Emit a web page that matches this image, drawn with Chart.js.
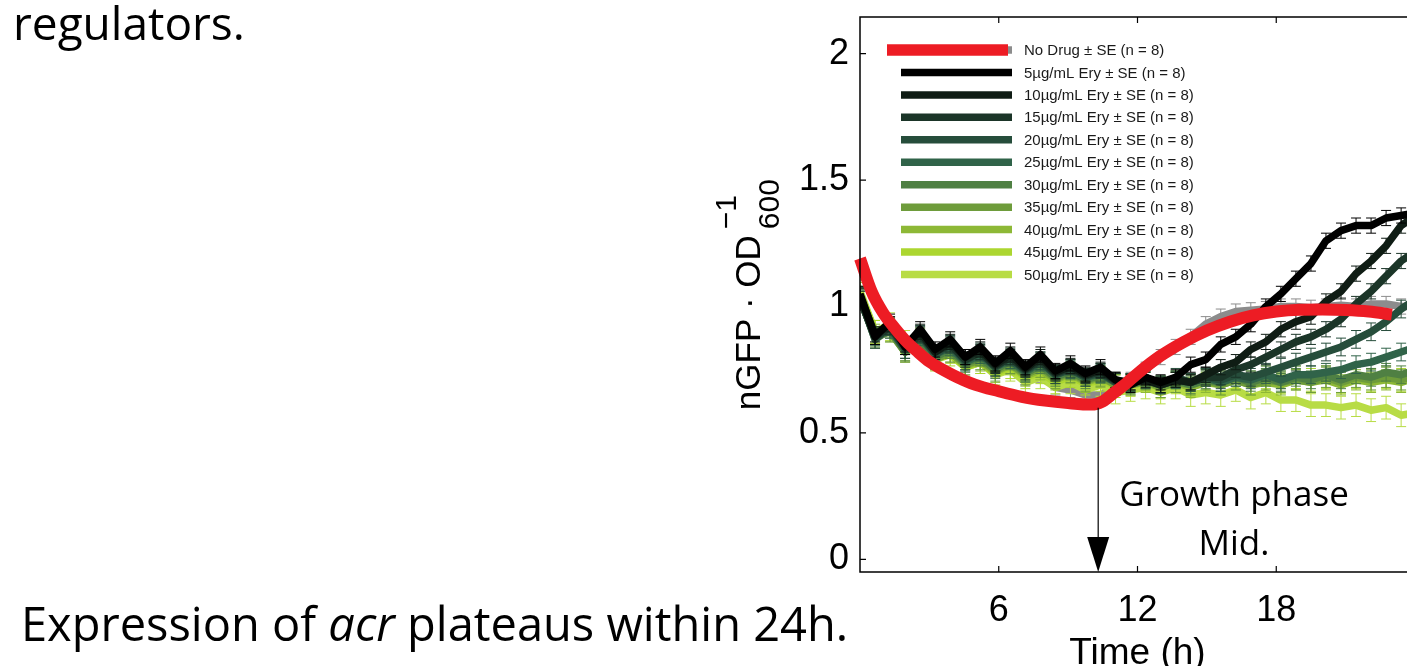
<!DOCTYPE html>
<html>
<head>
<meta charset="utf-8">
<script src="https://cdn.jsdelivr.net/npm/chart.js@4.4.1/dist/chart.umd.min.js"></script>
<style>
html,body{margin:0;padding:0;width:1407px;height:666px;overflow:hidden;background:#fff;}
#c{position:absolute;left:0;top:0;}
.slide{position:absolute;font-family:'Open Sans',sans-serif;color:#000;white-space:nowrap;z-index:2;}
</style>
</head>
<body>
<canvas id="c" width="1500" height="666"></canvas>
<div class="slide" style="left:13px;top:-1px;font-size:46px;line-height:46px;">regulators.</div>
<div class="slide" style="left:21px;top:600px;font-size:47px;line-height:47px;">Expression of <i>acr</i> plateaus within 24h.</div>
<div class="slide" style="left:1034px;top:475px;width:400px;text-align:center;font-size:35px;line-height:35px;">Growth phase</div>
<div class="slide" style="left:1034px;top:524px;width:400px;text-align:center;font-size:35px;line-height:35px;">Mid.</div>
<script>
// ---------------- data ----------------
const times = [0,0.65,1.3,1.95,2.6,3.25,3.9,4.55,5.2,5.85,6.5,7.15,7.8,8.45,9.1,9.75,10.4,11.05,11.7,12.35,13,13.65,14.3,14.95,15.6,16.25,16.9,17.55,18.2,18.85,19.5,20.15,20.8,21.45,22.1,22.75,23.4,24.05];

const noDrug = [1.05,0.89,0.93,0.85,0.88,0.81,0.84,0.78,0.80,0.75,0.77,0.72,0.73,0.68,0.67,0.65,0.65,0.68,0.71,0.75,0.80,0.84,0.88,0.93,0.96,0.98,0.985,0.99,1.00,1.00,0.995,1.00,1.005,1.00,1.01,1.01,1.00,1.00];
const ery5  = [1.05,0.88,0.94,0.84,0.91,0.83,0.87,0.80,0.84,0.775,0.825,0.76,0.81,0.745,0.775,0.735,0.76,0.71,0.69,0.72,0.70,0.72,0.77,0.79,0.85,0.88,0.93,1.00,1.05,1.11,1.17,1.26,1.30,1.32,1.32,1.35,1.36,1.37];
const ery10 = [1.04,0.89,0.93,0.85,0.90,0.82,0.86,0.80,0.83,0.77,0.81,0.755,0.80,0.74,0.765,0.73,0.75,0.71,0.70,0.71,0.69,0.71,0.70,0.73,0.76,0.78,0.83,0.86,0.91,0.94,0.96,1.02,1.06,1.13,1.18,1.24,1.32,1.36];
const ery15 = [1.03,0.88,0.92,0.84,0.89,0.82,0.85,0.79,0.82,0.765,0.80,0.75,0.79,0.735,0.76,0.725,0.745,0.705,0.70,0.72,0.69,0.71,0.70,0.72,0.72,0.75,0.77,0.80,0.83,0.86,0.88,0.91,0.95,1.01,1.06,1.12,1.18,1.22];
const ery20 = [1.04,0.87,0.92,0.83,0.89,0.81,0.85,0.785,0.82,0.76,0.80,0.745,0.785,0.73,0.755,0.72,0.74,0.70,0.70,0.71,0.69,0.72,0.70,0.72,0.71,0.73,0.72,0.74,0.76,0.78,0.80,0.82,0.84,0.87,0.90,0.94,0.99,1.03];
const ery25 = [1.03,0.88,0.91,0.83,0.88,0.81,0.84,0.78,0.81,0.76,0.79,0.74,0.78,0.73,0.75,0.72,0.735,0.70,0.70,0.72,0.69,0.71,0.70,0.72,0.70,0.72,0.71,0.73,0.71,0.73,0.73,0.74,0.75,0.77,0.78,0.80,0.82,0.84];
const ery30 = [1.04,0.87,0.91,0.82,0.87,0.80,0.83,0.775,0.80,0.75,0.785,0.735,0.77,0.72,0.745,0.71,0.73,0.70,0.69,0.71,0.69,0.71,0.69,0.71,0.70,0.72,0.70,0.72,0.70,0.72,0.71,0.73,0.71,0.73,0.72,0.74,0.73,0.75];
const ery35 = [1.03,0.88,0.90,0.82,0.86,0.79,0.82,0.77,0.79,0.745,0.775,0.73,0.76,0.715,0.74,0.705,0.725,0.69,0.69,0.71,0.68,0.70,0.69,0.71,0.69,0.71,0.69,0.71,0.70,0.71,0.70,0.72,0.70,0.72,0.71,0.72,0.71,0.73];
const ery40 = [1.04,0.89,0.90,0.82,0.86,0.79,0.82,0.765,0.785,0.74,0.77,0.725,0.75,0.71,0.735,0.70,0.72,0.69,0.69,0.70,0.68,0.70,0.68,0.70,0.69,0.71,0.69,0.70,0.69,0.71,0.70,0.71,0.69,0.71,0.70,0.71,0.70,0.72];
const ery45 = [1.05,0.90,0.91,0.83,0.85,0.79,0.81,0.76,0.78,0.735,0.76,0.72,0.74,0.70,0.725,0.695,0.71,0.685,0.69,0.71,0.68,0.70,0.69,0.71,0.70,0.72,0.70,0.72,0.70,0.72,0.71,0.72,0.70,0.72,0.71,0.72,0.71,0.73];
const ery50 = [1.06,0.90,0.93,0.86,0.87,0.80,0.82,0.76,0.78,0.73,0.75,0.70,0.72,0.68,0.70,0.67,0.69,0.66,0.67,0.68,0.66,0.68,0.65,0.66,0.65,0.67,0.64,0.66,0.63,0.63,0.61,0.61,0.60,0.61,0.59,0.60,0.57,0.58];

// standard error per series (No Drug, 5 ... 50)
const seriesSE = [0.03,0.03,0.03,0.03,0.035,0.035,0.035,0.04,0.04,0.045,0.045];

// fitted No Drug curve (red)
const fitTimes  = [0,0.5,1,1.5,2,2.5,3,4,5,6,7,8,9,10,10.5,11,11.5,12,13,14,15,16,17,18,19,20,21,22,23];
const fitValues = [1.19,1.06,0.975,0.915,0.862,0.82,0.782,0.73,0.69,0.665,0.643,0.628,0.618,0.612,0.625,0.66,0.695,0.735,0.805,0.86,0.905,0.94,0.965,0.98,0.987,0.988,0.986,0.98,0.968];

const seriesLabels = ['No Drug \u00b1 SE (n = 8)','5\u00b5g/mL Ery \u00b1 SE (n = 8)','10\u00b5g/mL Ery \u00b1 SE (n = 8)','15\u00b5g/mL Ery \u00b1 SE (n = 8)','20\u00b5g/mL Ery \u00b1 SE (n = 8)','25\u00b5g/mL Ery \u00b1 SE (n = 8)','30\u00b5g/mL Ery \u00b1 SE (n = 8)','35\u00b5g/mL Ery \u00b1 SE (n = 8)','40\u00b5g/mL Ery \u00b1 SE (n = 8)','45\u00b5g/mL Ery \u00b1 SE (n = 8)','50\u00b5g/mL Ery \u00b1 SE (n = 8)'];
const xTicks = [6,12,18];
const yTicks = [0,0.5,1,1.5,2];
const arrowTime = 10.3;
const arrowFrom = 0.6;

// ---------------- styles ----------------
const seriesColors = ['#8c8c8c','#000000','#0f1c14','#1b3528','#264d3b','#306349','#4f8043','#6e9c3b','#8db836','#acd630','#b8dc45'];
const fitColor = '#ed1c24';
const AXF = "'Liberation Sans', Arial, Helvetica, sans-serif";

const eryValues = [ery5,ery10,ery15,ery20,ery25,ery30,ery35,ery40,ery45,ery50];
const toXY = (ts, vs) => ts.map((t,i)=>({x:t,y:vs[i]}));

const datasets = [];
datasets.push({label:'fit', data: toXY(fitTimes, fitValues), borderColor: fitColor, borderWidth: 12,
  cubicInterpolationMode:'monotone', pointRadius:0, borderCapStyle:'butt', clip: 10});
eryValues.forEach((vals,k)=>{
  datasets.push({label: seriesLabels[k+1], data: toXY(times, vals), borderColor: seriesColors[k+1],
    borderWidth: 7.5, pointRadius: 0, tension: 0, borderJoinStyle:'round', se: seriesSE[k+1]});
});
datasets.push({label: seriesLabels[0], data: toXY(times, noDrug), borderColor: seriesColors[0],
  borderWidth: 7.5, pointRadius: 0, tension: 0, borderJoinStyle:'round', se: seriesSE[0]});

const noPad = s => { s.paddingTop = 0; s.paddingBottom = 0; s.paddingLeft = 0; s.paddingRight = 0; };

const decor = {
  id: 'decor',
  beforeDatasetDraw(chart, args) {
    const ds = chart.data.datasets[args.index];
    if (!ds.se) return;
    const {ctx, chartArea: ca, scales:{x, y}} = chart;
    ctx.save();
    ctx.beginPath(); ctx.rect(ca.left, ca.top, ca.right-ca.left, ca.bottom-ca.top); ctx.clip();
    ctx.strokeStyle = ds.borderColor; ctx.lineWidth = 1;
    ctx.beginPath();
    ds.data.forEach(p => {
      const px = x.getPixelForValue(p.x);
      const y1 = y.getPixelForValue(p.y - ds.se), y2 = y.getPixelForValue(p.y + ds.se);
      ctx.moveTo(px, y1); ctx.lineTo(px, y2);
      ctx.moveTo(px-5, y1); ctx.lineTo(px+5, y1);
      ctx.moveTo(px-5, y2); ctx.lineTo(px+5, y2);
    });
    ctx.stroke();
    ctx.restore();
  },
  afterDraw(chart) {
    const {ctx, chartArea: ca, scales:{x, y}} = chart;
    ctx.save();
    // axes box
    ctx.strokeStyle = '#000'; ctx.lineWidth = 1.5;
    ctx.beginPath();
    ctx.moveTo(ca.left, ca.top); ctx.lineTo(ca.left, ca.bottom); ctx.lineTo(ca.right, ca.bottom);
    ctx.lineTo(ca.right, ca.top); ctx.closePath();
    ctx.stroke();
    ctx.lineWidth = 1.2;
    ctx.beginPath();
    yTicks.forEach(v => { const py = y.getPixelForValue(v);
      ctx.moveTo(ca.left, py); ctx.lineTo(ca.left+6, py);
      ctx.moveTo(ca.right, py); ctx.lineTo(ca.right-6, py); });
    xTicks.forEach(v => { const px = x.getPixelForValue(v);
      ctx.moveTo(px, ca.bottom); ctx.lineTo(px, ca.bottom-6);
      ctx.moveTo(px, ca.top); ctx.lineTo(px, ca.top+6); });
    ctx.stroke();

    // arrow
    const ax = x.getPixelForValue(arrowTime);
    const ay = y.getPixelForValue(arrowFrom);
    ctx.lineWidth = 1.2;
    ctx.beginPath(); ctx.moveTo(ax, ay); ctx.lineTo(ax, ca.bottom - 30); ctx.stroke();
    ctx.fillStyle = '#000';
    ctx.beginPath(); ctx.moveTo(ax-11, ca.bottom-35); ctx.lineTo(ax+11, ca.bottom-35); ctx.lineTo(ax, ca.bottom); ctx.closePath(); ctx.fill();

    // x title
    ctx.fillStyle = '#000';
    ctx.font = `37px ${AXF}`;
    ctx.textAlign = 'center'; ctx.textBaseline = 'alphabetic';
    ctx.fillText('Time (h)', (ca.left+ca.right)/2, 664);

    // y title
    ctx.save();
    ctx.translate(ca.left - 100, y.getPixelForValue(0.59));
    ctx.rotate(-Math.PI/2);
    ctx.textAlign = 'left';
    ctx.font = `35px ${AXF}`;
    ctx.fillText('nGFP \u00b7 OD', 0, 0);
    const w = ctx.measureText('nGFP \u00b7 OD').width;
    ctx.font = `30px ${AXF}`;
    ctx.fillText('600', w + 6, 19);
    ctx.fillText('\u22121', w + 6, -24);
    ctx.restore();

    // legend
    const lx0 = ca.left + 41, lx1 = ca.left + 152, ty0 = ca.top + 33, dy = 22.45;
    ctx.font = `15px ${AXF}`;
    ctx.textAlign = 'left'; ctx.textBaseline = 'middle';
    seriesLabels.forEach((lab, i) => {
      const yy = ty0 + i*dy;
      ctx.lineCap = 'butt';
      ctx.strokeStyle = seriesColors[i]; ctx.lineWidth = 7.5;
      ctx.beginPath(); ctx.moveTo(lx0, yy); ctx.lineTo(lx1, yy); ctx.stroke();
      if (i === 0) {
        ctx.strokeStyle = fitColor; ctx.lineWidth = 11.5;
        ctx.beginPath(); ctx.moveTo(lx0-14, yy); ctx.lineTo(lx1-4, yy); ctx.stroke();
      }
      ctx.fillStyle = '#1a1a1a';
      ctx.fillText(lab, ca.left + 164, yy + 1);
    });
    ctx.restore();
  }
};

new Chart(document.getElementById('c'), {
  type: 'line',
  data: { datasets },
  options: {
    responsive: false, animation: false, devicePixelRatio: 1,
    layout: { padding: { left: 700, top: 17, right: 85, bottom: 0 } },
    plugins: { legend: { display: false }, tooltip: { enabled: false } },
    scales: {
      x: {
        type: 'linear', min: 0, max: 24,
        afterBuildTicks: s => { s.ticks = xTicks.map(v => ({value: v})); },
        afterFit: s => { s.height = 94; noPad(s); },
        grid: { display: false, drawTicks: false }, border: { display: false },
        ticks: { color: '#000', font: { family: AXF, size: 36 }, padding: 17, maxRotation: 0, autoSkip: false }
      },
      y: {
        min: -0.05, max: 2.145,
        afterBuildTicks: s => { s.ticks = yTicks.map(v => ({value: v})); },
        afterFit: s => { s.width = 160; noPad(s); },
        grid: { display: false, drawTicks: false }, border: { display: false },
        ticks: { color: '#000', font: { family: AXF, size: 36 }, padding: 11, callback: v => String(v) }
      }
    }
  },
  plugins: [decor]
});
</script>
</body>
</html>
